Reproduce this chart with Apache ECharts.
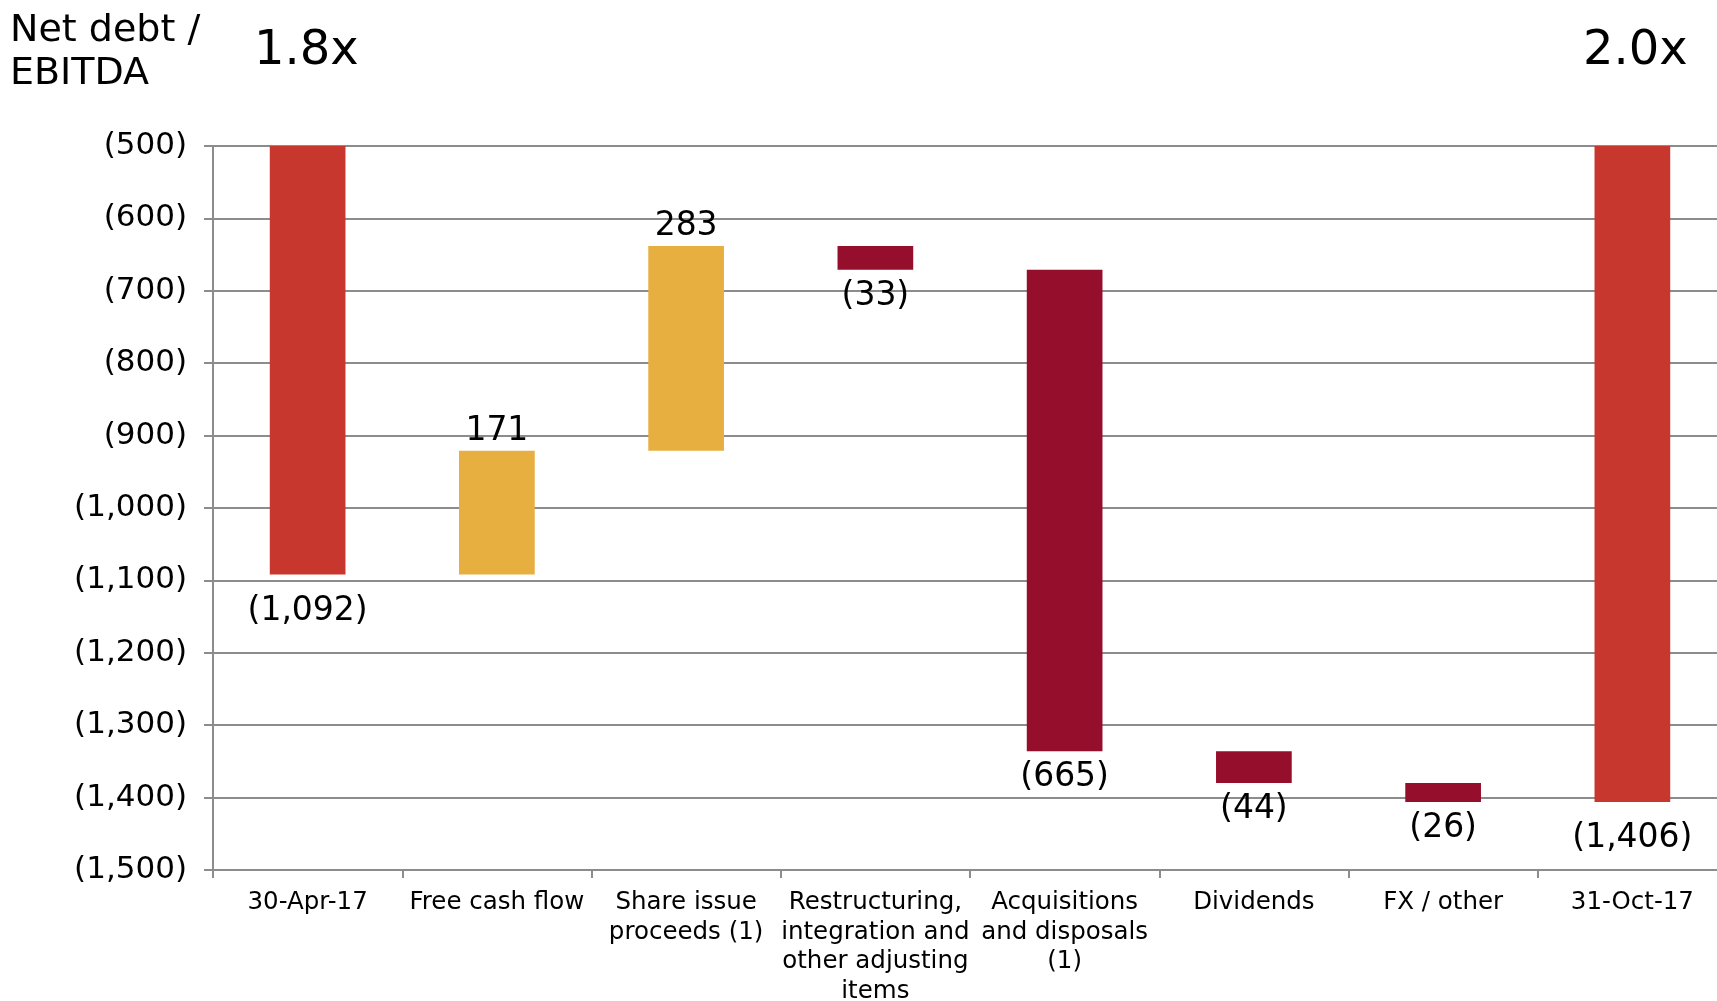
<!DOCTYPE html>
<html>
<head>
<meta charset="utf-8">
<title>Net debt bridge</title>
<script src="https://cdn.jsdelivr.net/npm/echarts@6/dist/echarts.min.js"></script>
<style>
  html, body { margin: 0; padding: 0; background: #ffffff; }
  #chart { width: 1717px; height: 1001px; }
</style>
</head>
<body>
<div id="chart"></div>
<script>
// Net debt bridge, 30-Apr-17 to 31-Oct-17 (values in millions, debt shown negative)
const categories = [
  '30-Apr-17',
  'Free cash flow',
  'Share issue\nproceeds (1)',
  'Restructuring,\nintegration and\nother adjusting\nitems',
  'Acquisitions\nand disposals\n(1)',
  'Dividends',
  'FX / other',
  '31-Oct-17'
];
const openingNetDebt = -1092;
const movements = [171, 283, -33, -665, -44, -26];
const closingNetDebt = -1406;
const leverageOpening = '1.8x';
const leverageClosing = '2.0x';
const yTicks = { min: -1500, max: -500, step: 100 };

const COLOR_TOTAL = '#C8372D';
const COLOR_UP = '#E6AF40';
const COLOR_DOWN = '#950E2C';

function fmt(v) {
  const s = Math.abs(v).toLocaleString('en-US');
  return v < 0 ? '(' + s + ')' : s;
}

// Build the floating segments: an invisible base up to the upper edge, then the visible piece
const baseData = [];
const barData = [];
baseData.push(0);
barData.push({ value: openingNetDebt, label: fmt(openingNetDebt), kind: 'total' });
let running = openingNetDebt;
movements.forEach(function (m) {
  const before = running;
  const after = running + m;
  const upper = Math.max(before, after);
  const lower = Math.min(before, after);
  baseData.push(upper);
  barData.push({ value: lower - upper, label: fmt(m), kind: m >= 0 ? 'up' : 'down' });
  running = after;
});
baseData.push(0);
barData.push({ value: closingNetDebt, label: fmt(closingNetDebt), kind: 'total' });

const FONT = '"DejaVu Sans", Verdana, sans-serif';

const visible = barData.map(function (d) {
  const color = d.kind === 'total' ? COLOR_TOTAL : (d.kind === 'up' ? COLOR_UP : COLOR_DOWN);
  return {
    value: d.value,
    itemStyle: { color: color },
    label: {
      show: true,
      position: d.kind === 'up' ? 'top' : 'bottom',
      distance: d.kind === 'total' ? 20 : (d.kind === 'up' ? 3 : 10),
      formatter: d.label
    }
  };
});

const chart = echarts.init(document.getElementById('chart'), null, { renderer: 'canvas' });
chart.setOption({
  animation: false,
  backgroundColor: '#ffffff',
  textStyle: { fontFamily: FONT, color: '#000' },
  grid: {
    left: 213, top: 146, width: 1514, height: 724,
    containLabel: false, outerBoundsMode: 'none'
  },
  graphic: [
    {
      type: 'text', left: 10, top: 10,
      style: { text: 'Net debt /\nEBITDA', font: '38px ' + FONT, lineHeight: 43, fill: '#000' }
    },
    {
      type: 'text', left: 254, top: 28,
      style: { text: leverageOpening, font: '48px ' + FONT, fill: '#000' }
    },
    {
      type: 'text', left: 1583, top: 28,
      style: { text: leverageClosing, font: '48px ' + FONT, fill: '#000' }
    }
  ],
  xAxis: {
    type: 'category',
    data: categories,
    boundaryGap: true,
    axisLine: { show: true, lineStyle: { color: '#8c8c8c', width: 2 } },
    axisTick: { show: true, alignWithLabel: false, length: 8, lineStyle: { color: '#8c8c8c', width: 2 } },
    axisLabel: {
      interval: 0, margin: 18, color: '#000', fontFamily: FONT, fontSize: 24.5, lineHeight: 29.5, align: 'center'
    },
    splitLine: { show: false }
  },
  yAxis: {
    type: 'value',
    min: yTicks.min,
    max: yTicks.max,
    interval: yTicks.step,
    axisLine: { show: true, lineStyle: { color: '#8c8c8c', width: 2 } },
    axisTick: { show: true, length: 9, lineStyle: { color: '#8c8c8c', width: 2 } },
    axisLabel: {
      margin: 26, color: '#000', fontFamily: FONT, fontSize: 31,
      formatter: function (v) { return fmt(v); }
    },
    splitLine: { show: true, lineStyle: { color: '#8c8c8c', width: 2 } }
  },
  series: [
    {
      name: 'base',
      type: 'bar',
      stack: 'bridge',
      barWidth: '40%',
      data: baseData,
      itemStyle: { color: 'transparent' },
      emphasis: { disabled: true },
      silent: true
    },
    {
      name: 'movement',
      type: 'bar',
      stack: 'bridge',
      barWidth: '40%',
      data: visible,
      label: { color: '#000', fontFamily: FONT, fontSize: 33 },
      emphasis: { disabled: true }
    }
  ]
});
</script>
</body>
</html>
